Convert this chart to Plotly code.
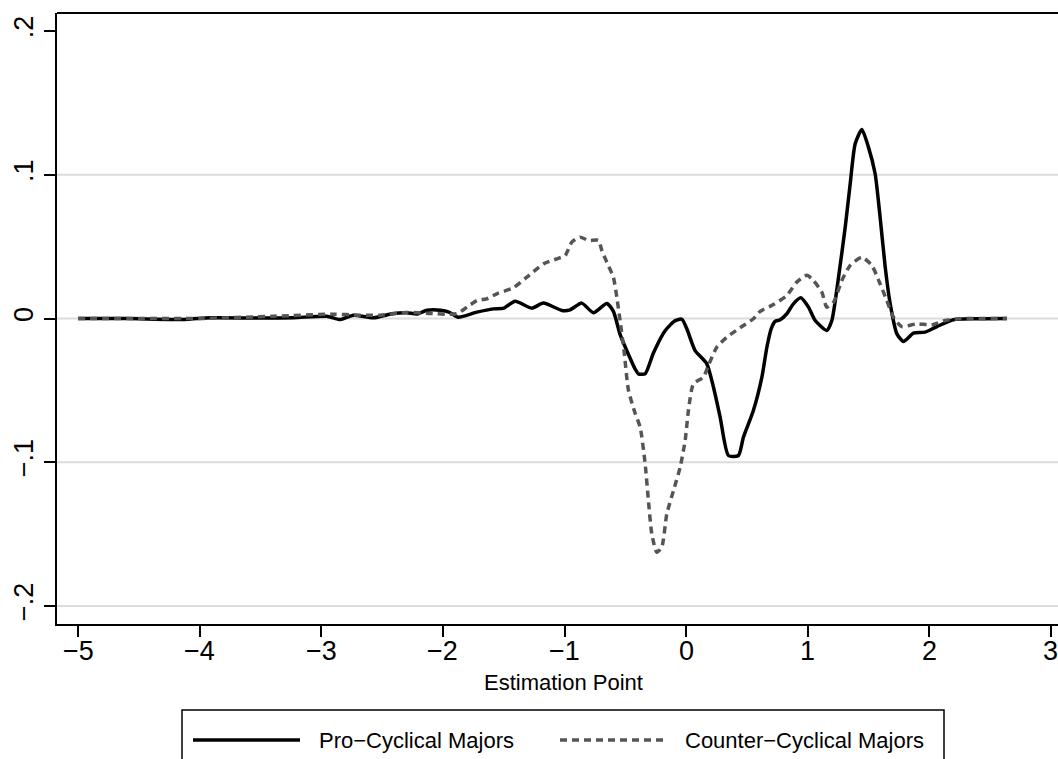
import plotly.graph_objects as go

# Local estimates for pro-cyclical majors (solid line)
pro_x = [-5.00, -4.60, -4.13, -3.91, -3.50, -3.23, -2.955, -2.845, -2.736, -2.57,
         -2.407, -2.297, -2.215, -2.13, -2.02, -1.95, -1.873, -1.72, -1.585, -1.50,
         -1.406, -1.269, -1.173, -1.022, -0.954, -0.858, -0.762, -0.652, -0.598, -0.543,
         -0.474, -0.420, -0.392, -0.337, -0.269, -0.173, -0.090, -0.035, 0.005, 0.074,
         0.170, 0.225, 0.280, 0.348, 0.430, 0.471, 0.553, 0.623, 0.664, 0.700,
         0.732, 0.773, 0.828, 0.882, 0.943, 1.006, 1.061, 1.157, 1.198, 1.253,
         1.308, 1.349, 1.390, 1.445, 1.499, 1.554, 1.595, 1.637, 1.678, 1.733,
         1.787, 1.869, 1.965, 2.062, 2.198, 2.363, 2.637]
pro_y = [0.0000, 0.0000, -0.0007, 0.0005, 0.0003, 0.0005, 0.0016, -0.0007, 0.0023, 0.0005,
         0.0035, 0.0040, 0.0031, 0.0058, 0.0058, 0.0045, 0.0009, 0.0044, 0.0067, 0.0072,
         0.0120, 0.0072, 0.0107, 0.0056, 0.0060, 0.0107, 0.0040, 0.0105, 0.0050, -0.0110,
         -0.0250, -0.0350, -0.0385, -0.0385, -0.0240, -0.0085, -0.0015, -0.0005, -0.0070, -0.0223,
         -0.0315, -0.0478, -0.0687, -0.0953, -0.0953, -0.0826, -0.0640, -0.0408, -0.0200, -0.0070,
         -0.0020, -0.0009, 0.0033, 0.0102, 0.0144, 0.0079, -0.0014, -0.0083, -0.0014, 0.0287,
         0.0635, 0.0937, 0.1215, 0.1315, 0.1192, 0.1007, 0.0705, 0.0357, 0.0102, -0.0107,
         -0.0160, -0.0102, -0.0095, -0.0056, -0.0009, -0.0002, 0.0000]

# Local estimates for counter-cyclical majors (dashed line)
counter_x = [-5.00, -4.50, -4.00, -3.39, -2.90, -2.68, -2.516, -2.297, -2.105, -1.886,
             -1.80, -1.72, -1.639, -1.557, -1.42, -1.31, -1.173, -1.063, -0.995, -0.940,
             -0.872, -0.803, -0.721, -0.693, -0.652, -0.598, -0.570, -0.543, -0.510, -0.474,
             -0.419, -0.378, -0.337, -0.310, -0.282, -0.241, -0.200, -0.159, -0.104, -0.049,
             -0.008, 0.019, 0.060, 0.142, 0.183, 0.252, 0.335, 0.471, 0.553, 0.609,
             0.718, 0.828, 0.910, 0.993, 1.047, 1.116, 1.157, 1.212, 1.280, 1.349,
             1.445, 1.527, 1.595, 1.650, 1.705, 1.774, 1.897, 2.021, 2.130, 2.253,
             2.637]
counter_y = [0.0000, 0.0000, 0.0000, 0.0016, 0.0030, 0.0023, 0.0023, 0.0042, 0.0035, 0.0033,
             0.0080, 0.0125, 0.0137, 0.0172, 0.0214, 0.0287, 0.0380, 0.0415, 0.0438, 0.0531,
             0.0566, 0.0543, 0.0543, 0.0473, 0.0392, 0.0287, 0.0148, -0.0014, -0.0230, -0.0500,
             -0.0660, -0.0756, -0.1010, -0.1266, -0.1500, -0.1626, -0.1590, -0.1360, -0.1197, -0.1034,
             -0.0849, -0.0640, -0.0455, -0.0408, -0.0327, -0.0200, -0.0130, -0.0049, -0.0002, 0.0050,
             0.0097, 0.0160, 0.0253, 0.0300, 0.0264, 0.0183, 0.0079, 0.0113, 0.0264, 0.0369,
             0.0426, 0.0369, 0.0241, 0.0125, 0.0009, -0.0056, -0.0037, -0.0044, -0.0014, -0.0002,
             0.0000]

series_names = ["Pro\u2212Cyclical Majors", "Counter\u2212Cyclical Majors"]

x_tick_vals = [-5, -4, -3, -2, -1, 0, 1, 2, 3]
x_tick_text = ["\u22125", "\u22124", "\u22123", "\u22122", "\u22121", "0", "1", "2", "3"]
y_tick_vals = [0.2, 0.1, 0.0, -0.1, -0.2]
y_tick_text = [".2", ".1", "0", "\u2212.1", "\u2212.2"]
y_grid_vals = [0.1, 0.0, -0.1, -0.2]

FONT = "Liberation Sans, Arial, Helvetica, sans-serif"
W, H = 1058, 759
L, R, T, B = 57, 0, 13, 135
PW, PH = W - L - R, H - T - B


def px_x(p):
    return (p - L) / PW


def px_y(p):
    return (H - B - p) / PH


fig = go.Figure()
fig.add_trace(go.Scatter(
    x=pro_x, y=pro_y, mode="lines", name=series_names[0],
    line=dict(color="black", width=3.5, shape="spline", smoothing=0.6),
    showlegend=False))
fig.add_trace(go.Scatter(
    x=counter_x, y=counter_y, mode="lines", name=series_names[1],
    line=dict(color="#555555", width=3.5, dash="7px,5px", shape="spline", smoothing=0.6),
    showlegend=False))

shapes = []
# horizontal grid lines
for gv in y_grid_vals:
    shapes.append(dict(type="line", xref="paper", yref="y", x0=0, x1=1, y0=gv, y1=gv,
                       line=dict(color="#dcdcdc", width=2), layer="below"))
# top frame line
shapes.append(dict(type="line", xref="paper", yref="paper", x0=0, x1=1, y0=1, y1=1,
                   line=dict(color="black", width=2)))
# legend box
shapes.append(dict(type="rect", xref="paper", yref="paper",
                   x0=px_x(182), x1=px_x(944), y0=px_y(710), y1=px_y(810),
                   line=dict(color="black", width=1.5), fillcolor="white"))
# legend keys
ly = px_y(740)
shapes.append(dict(type="line", xref="paper", yref="paper", x0=px_x(193), x1=px_x(300),
                   y0=ly, y1=ly, line=dict(color="black", width=3.5)))
shapes.append(dict(type="line", xref="paper", yref="paper", x0=px_x(560), x1=px_x(667),
                   y0=ly, y1=ly, line=dict(color="#555555", width=3.5, dash="7px,5px")))

annotations = [
    dict(text="Estimation Point", xref="paper", yref="paper", x=px_x(563), y=px_y(682),
         xanchor="center", yanchor="middle", showarrow=False,
         font=dict(family=FONT, size=22, color="black")),
    dict(text=series_names[0], xref="paper", yref="paper", x=px_x(317), y=ly,
         xanchor="left", yanchor="middle", showarrow=False,
         font=dict(family=FONT, size=22, color="black")),
    dict(text=series_names[1], xref="paper", yref="paper", x=px_x(683), y=ly,
         xanchor="left", yanchor="middle", showarrow=False,
         font=dict(family=FONT, size=22, color="black")),
]
# x tick labels, placed at the tick positions on the x axis
for tv, tt in zip(x_tick_vals, x_tick_text):
    annotations.append(dict(text=tt, xref="x", yref="paper", x=tv, y=px_y(651),
                            xanchor="center", yanchor="middle", showarrow=False,
                            font=dict(family=FONT, size=27, color="black")))

fig.update_layout(
    width=W, height=H,
    margin=dict(l=L, r=R, t=T, b=B, autoexpand=False),
    paper_bgcolor="white", plot_bgcolor="white",
    font=dict(family=FONT, color="black"),
    shapes=shapes, annotations=annotations,
    showlegend=False,
    xaxis=dict(range=[-5.1727, 3.0576], tickvals=x_tick_vals, showticklabels=False,
               showgrid=False, zeroline=False, showline=True, linecolor="black", linewidth=2,
               ticks="outside", ticklen=11, tickwidth=2, tickcolor="black", automargin=False),
    yaxis=dict(range=[-0.2125, 0.2125], tickvals=y_tick_vals, ticktext=y_tick_text,
               showgrid=False, zeroline=False, showline=True, linecolor="black", linewidth=2,
               ticks="outside", ticklen=11, tickwidth=2, tickcolor="black", tickangle=-90,
               tickfont=dict(family=FONT, size=27, color="black"), automargin=False),
)

fig.write_html("out.html")
